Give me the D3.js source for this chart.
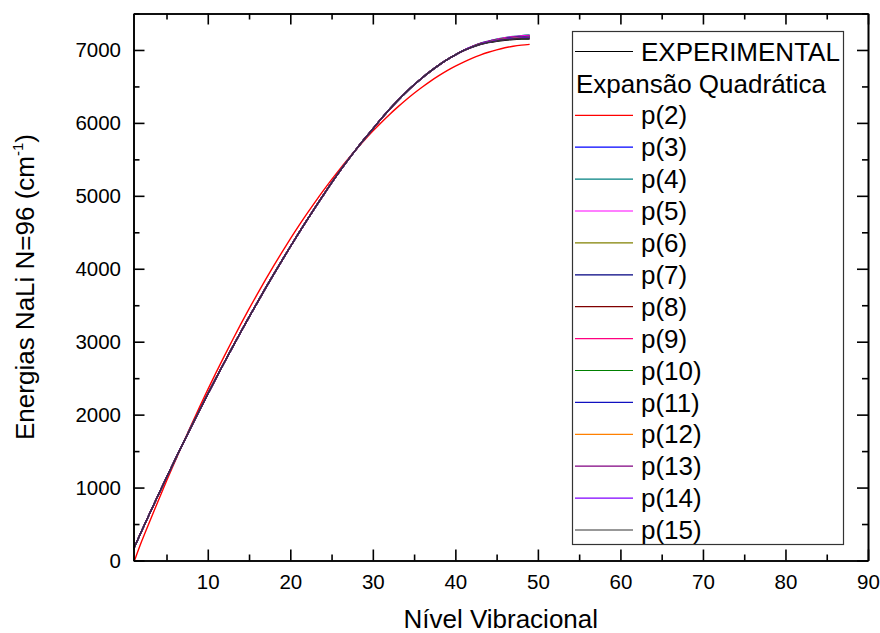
<!DOCTYPE html>
<html><head><meta charset="utf-8">
<script src="https://cdn.jsdelivr.net/npm/d3@7"></script>
<style>body{margin:0;background:#fff} text{font-family:"Liberation Sans",Arial,sans-serif;fill:#000}</style>
</head><body><svg id="c" width="880" height="633"></svg>
<script>
// Vibrational levels (x)
const levels = [1,2,3,4,5,6,7,8,9,10,11,12,13,14,15,16,17,18,19,20,21,22,23,24,25,26,27,28,29,30,31,32,33,34,35,36,37,38,39,40,41,42,43,44,45,46,47,48,49];
// Experimental energies (cm^-1), levels 1..40 (shared head) and 41..49
const expHead = [156,407,654,897,1137,1373,1606,1835,2060,2282,2500,2715,2926,3133,3337,3537,3734,3927,4116,4302,4484,4663,4838,5009,5177,5338,5493,5641,5782,5917,6055,6185,6305,6418,6523,6620,6710,6793,6868,6934];
const expTail = [6990,7037,7075,7100,7120,7134,7143,7148,7150];
// p(2): quadratic expansion with 2 terms
const p2 = [-40,266,546,820,1089,1351,1608,1859,2104,2343,2576,2803,3024,3240,3450,3653,3851,4043,4229,4409,4584,4752,4915,5071,5222,5367,5506,5639,5766,5888,6003,6113,6216,6314,6406,6492,6573,6647,6716,6778,6834,6885,6930,6969,7002,7030,7051,7066,7076];
// p(3)..p(15): identical to experimental up to level 40, tails below
const p3Tail  = [6994,7045,7088,7118,7143,7163,7178,7188,7195];
const p4Tail  = [6995,7047,7091,7122,7149,7169,7185,7197,7205];
const p5Tail  = [6995,7046,7090,7120,7146,7166,7182,7193,7200];
const p6Tail  = [6993,7043,7085,7114,7138,7156,7170,7179,7185];
const p7Tail  = [6992,7042,7082,7110,7133,7150,7162,7170,7175];
const p8Tail  = [6992,7041,7081,7108,7130,7147,7158,7166,7170];
const p9Tail  = [6994,7044,7087,7116,7141,7160,7174,7184,7190];
const p10Tail = [6993,7042,7084,7112,7136,7153,7166,7175,7180];
const p11Tail = [6993,7043,7085,7114,7138,7156,7170,7179,7185];
const p12Tail = [6992,7042,7082,7110,7133,7150,7162,7170,7175];
const p13Tail = [6991,7040,7079,7106,7128,7144,7155,7161,7165];
const p14Tail = [6992,7041,7081,7108,7130,7147,7158,7166,7170];
const p15Tail = [6991,7039,7078,7104,7125,7140,7151,7157,7160];

const seriesNames = ["EXPERIMENTAL","p(2)","p(3)","p(4)","p(5)","p(6)","p(7)","p(8)","p(9)","p(10)","p(11)","p(12)","p(13)","p(14)","p(15)"];
const seriesColors = ["#000000","#FF0000","#0000FF","#008080","#FF00FF","#808000","#000080","#800000","#FF0080","#008000","#1010C0","#FF8000","#800080","#8000FF","#333333"];
const seriesValues = [
  expHead.concat(expTail), p2,
  expHead.concat(p3Tail), expHead.concat(p4Tail), expHead.concat(p5Tail),
  expHead.concat(p6Tail), expHead.concat(p7Tail), expHead.concat(p8Tail),
  expHead.concat(p9Tail), expHead.concat(p10Tail), expHead.concat(p11Tail),
  expHead.concat(p12Tail), expHead.concat(p13Tail), expHead.concat(p14Tail),
  expHead.concat(p15Tail)
];
const xTicks = [10,20,30,40,50,60,70,80,90];
const xMinor = [5,15,25,35,45,55,65,75,85];
const yTicks = [0,1000,2000,3000,4000,5000,6000,7000];
const yMinor = [500,1500,2500,3500,4500,5500,6500,7500];

const svg = d3.select("#c");
const L = 133.5, R = 868, T = 13.5, B = 560.5;
const x = d3.scaleLinear().domain([1,90]).range([L,R]);
const y = d3.scaleLinear().domain([0,7500]).range([B,T]);

svg.append("clipPath").attr("id","clip").append("rect")
  .attr("x",L).attr("y",T).attr("width",R-L).attr("height",B-T);

const line = d3.line().x((d,i)=>x(levels[i])).y(d=>y(d)).curve(d3.curveMonotoneX);
const g = svg.append("g").attr("clip-path","url(#clip)");
seriesValues.forEach((vals,i)=>{
  g.append("path").datum(vals).attr("d",line).attr("fill","none")
   .attr("stroke",seriesColors[i]).attr("stroke-width",1.4);
});

function styleAxis(sel){
  sel.selectAll(".domain").attr("stroke","#000").attr("stroke-width",1.6);
  sel.selectAll(".tick line").attr("stroke","#000").attr("stroke-width",1.6);
  sel.selectAll("text").attr("font-size",20.5).attr("fill","#000")
     .attr("font-family","'Liberation Sans',Arial,sans-serif");
}
// bottom
const gb = svg.append("g").attr("transform",`translate(0,${B})`)
  .call(d3.axisBottom(x).tickValues(xTicks).tickSizeInner(-11).tickSizeOuter(0).tickPadding(13.5));
styleAxis(gb);
const gbm = svg.append("g").attr("transform",`translate(0,${B})`)
  .call(d3.axisBottom(x).tickValues(xMinor).tickSizeInner(-6).tickSizeOuter(0).tickFormat(""));
styleAxis(gbm);
// top
const gt = svg.append("g").attr("transform",`translate(0,${T})`)
  .call(d3.axisTop(x).tickValues(xTicks).tickSizeInner(-11).tickSizeOuter(0).tickFormat(""));
styleAxis(gt);
const gtm = svg.append("g").attr("transform",`translate(0,${T})`)
  .call(d3.axisTop(x).tickValues(xMinor).tickSizeInner(-6).tickSizeOuter(0).tickFormat(""));
styleAxis(gtm);
// left
const gl = svg.append("g").attr("transform",`translate(${L},0)`)
  .call(d3.axisLeft(y).tickValues(yTicks).tickSizeInner(-11).tickSizeOuter(0).tickPadding(12.5).tickFormat(d3.format("d")));
styleAxis(gl);
const glm = svg.append("g").attr("transform",`translate(${L},0)`)
  .call(d3.axisLeft(y).tickValues(yMinor).tickSizeInner(-6).tickSizeOuter(0).tickFormat(""));
styleAxis(glm);
// right
const gr = svg.append("g").attr("transform",`translate(${R},0)`)
  .call(d3.axisRight(y).tickValues(yTicks).tickSizeInner(-11).tickSizeOuter(0).tickFormat(""));
styleAxis(gr);
const grm = svg.append("g").attr("transform",`translate(${R},0)`)
  .call(d3.axisRight(y).tickValues(yMinor).tickSizeInner(-6).tickSizeOuter(0).tickFormat(""));
styleAxis(grm);

// axis titles
svg.append("text").attr("x",(L+R)/2).attr("y",628).attr("text-anchor","middle")
  .attr("font-size",26).text("Nível Vibracional");
const yt = svg.append("text").attr("transform",`translate(34,${(T+B)/2}) rotate(-90)`)
  .attr("text-anchor","middle").attr("font-size",26);
yt.append("tspan").text("Energias NaLi N=96 (cm");
yt.append("tspan").attr("font-size",15).attr("dy",-11).text("-1");
yt.append("tspan").attr("dy",11).text(")");

// legend
const lg = svg.append("g");
lg.append("rect").attr("x",572.5).attr("y",31.5).attr("width",271).attr("height",513)
  .attr("fill","#fff").attr("stroke","#333").attr("stroke-width",1.2);
const rowY = i => 51.5 + 31.9*i;
const legendRows = [{name:seriesNames[0],color:seriesColors[0]},{header:"Expansão Quadrática"}]
  .concat(seriesNames.slice(1).map((n,i)=>({name:n,color:seriesColors[i+1]})));
legendRows.forEach((r,i)=>{
  const yy = rowY(i);
  if(r.header){
    lg.append("text").attr("x",576).attr("y",yy).attr("dy","0.35em").attr("font-size",26).text(r.header);
  } else {
    lg.append("line").attr("x1",575).attr("x2",633).attr("y1",yy).attr("y2",yy)
      .attr("stroke",r.color).attr("stroke-width",1.2);
    lg.append("text").attr("x",641).attr("y",yy).attr("dy","0.35em").attr("font-size",26).text(r.name);
  }
});
</script></body></html>
